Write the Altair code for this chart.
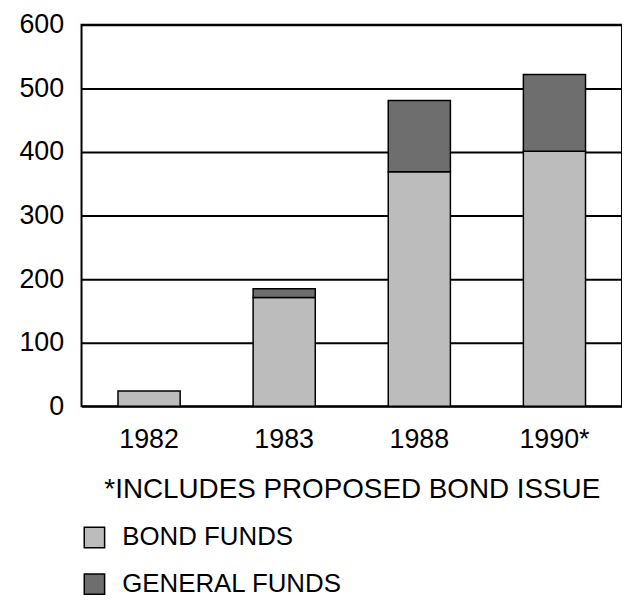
import altair as alt
import pandas as pd

years = ["1982", "1983", "1988", "1990*"]
bond_funds = [24, 171, 369, 401]
general_funds = [0, 14, 112, 121]
series = ["BOND FUNDS", "GENERAL FUNDS"]
y_ticks = [0, 100, 200, 300, 400, 500, 600]
note = "*INCLUDES PROPOSED BOND ISSUE"

colors = ["#bcbcbc", "#6e6e6e"]
FONT = "Liberation Sans"

rows = []
for i, yr in enumerate(years):
    rows.append({"year": yr, "series": series[0], "value": bond_funds[i], "rank": 0})
    rows.append({"year": yr, "series": series[1], "value": general_funds[i], "rank": 1})
df = pd.DataFrame(rows)

chart = (
    alt.Chart(df)
    .transform_filter("datum.value > 0")
    .mark_bar(stroke="black", strokeWidth=1.5)
    .encode(
        x=alt.X(
            "year:N",
            sort=years,
            title=note,
            scale=alt.Scale(paddingInner=0.54, paddingOuter=0.27),
            axis=alt.Axis(
                labelAngle=0, ticks=False, tickSize=0, domain=False,
                labelFontSize=27, labelPadding=20, labelFont=FONT, labelColor="black",
                titleFont=FONT, titleFontSize=28, titleFontWeight="normal",
                titlePadding=24, titleColor="black",
            ),
        ),
        y=alt.Y(
            "value:Q",
            stack="zero",
            title=None,
            scale=alt.Scale(domain=[0, 600], nice=False),
            axis=alt.Axis(
                values=y_ticks, ticks=False, tickSize=0, domain=False,
                grid=True, gridColor="black", gridWidth=2, gridOpacity=1,
                labelFontSize=27, labelPadding=18, labelFont=FONT, labelColor="black",
            ),
        ),
        color=alt.Color(
            "series:N",
            scale=alt.Scale(domain=series, range=colors),
            legend=alt.Legend(
                title=None, orient="none", legendX=0, legendY=503,
                direction="vertical", symbolType="square", symbolSize=420,
                symbolStrokeColor="black", symbolStrokeWidth=1.5, symbolOpacity=1,
                labelFontSize=26, labelFont=FONT, labelColor="black", labelLimit=0,
                labelOffset=15, rowPadding=19, padding=0,
            ),
        ),
        order=alt.Order("rank:Q"),
    )
    .properties(
        width=544,
        height=384,
        autosize=alt.AutoSizeParams(type="none"),
        padding={"left": 74, "top": 15, "right": 0, "bottom": 190},
    )
    .configure_view(stroke="black", strokeWidth=2)
)

chart.save("out.html", embed_options={"renderer": "svg", "actions": False})
